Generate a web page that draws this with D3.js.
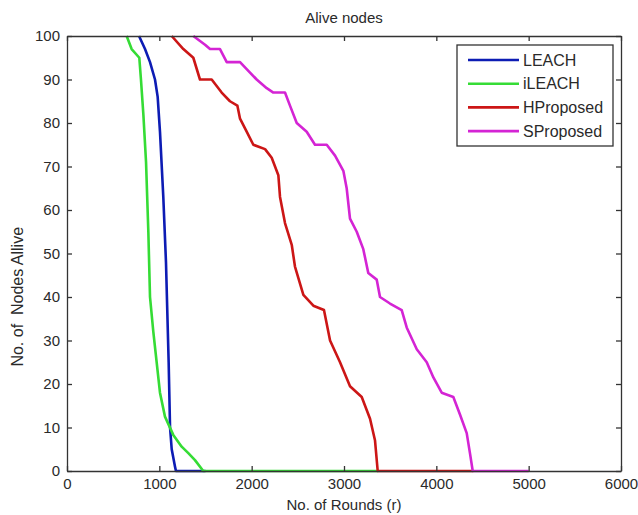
<!DOCTYPE html>
<html>
<head>
<meta charset="utf-8">
<script src="https://cdn.jsdelivr.net/npm/d3@7"></script>
<style>
body { margin: 0; background: #fff; }
text { font-family: "Liberation Sans", Arial, sans-serif; fill: #2a2a2a; }
</style>
</head>
<body>
<div id="chart"></div>
<script>
let width = 638;
let height = 515;
let margin = {top: 36, right: 17, bottom: 44, left: 67};

// rounds / alive nodes
let leachRounds = [780, 845, 899, 953, 982, 1007, 1043, 1072, 1101, 1116, 1134, 1170, 1180, 1500];
let leachAlive  = [100, 97, 94, 90, 86, 78, 63, 48, 25, 10, 5, 1, 0, 0];

let ileachRounds = [646, 700, 783, 801, 827, 856, 881, 899, 935, 971, 1007, 1061, 1151, 1242, 1314, 1386, 1476, 3370];
let ileachAlive  = [100, 97, 95, 90, 82, 71, 55, 40, 32, 25, 18, 12.5, 8.3, 5.6, 4.1, 2.5, 0, 0];

let hRounds = [1134, 1260, 1368, 1440, 1567, 1675, 1765, 1845, 1874, 1946, 2018, 2145, 2217, 2289, 2307, 2361, 2434, 2469, 2560, 2668, 2783, 2849, 2957, 3065, 3192, 3282, 3336, 3365, 4400];
let hAlive  = [100, 97, 95, 90, 90, 87, 85, 84, 81, 78, 75, 74, 72, 68, 63, 57, 52, 47, 40.5, 38, 37, 30, 25, 19.5, 17, 12, 7, 0, 0];

let sRounds = [1368, 1495, 1549, 1657, 1730, 1874, 1964, 2054, 2163, 2235, 2361, 2415, 2488, 2596, 2686, 2813, 2903, 2993, 3029, 3065, 3138, 3209, 3263, 3354, 3390, 3498, 3625, 3679, 3788, 3896, 3968, 4058, 4184, 4256, 4329, 4365, 4394, 5000];
let sAlive  = [100, 98, 97, 97, 94, 94, 92, 90, 88, 87, 87, 84, 80, 78, 75, 75, 72.5, 69, 65, 58, 55, 51, 45.5, 44, 40, 38.5, 37, 33, 28, 25, 21.5, 18, 17, 13, 8.7, 4, 0, 0];

let seriesNames = ["LEACH", "iLEACH", "HProposed", "SProposed"];
let seriesColors = ["#0d1cb4", "#35dc35", "#cc1616", "#d424d4"];

let xTicks = [0, 1000, 2000, 3000, 4000, 5000, 6000];
let yTicks = [0, 10, 20, 30, 40, 50, 60, 70, 80, 90, 100];

let series = [
	{name: seriesNames[0], color: seriesColors[0], values: d3.zip(leachRounds, leachAlive)},
	{name: seriesNames[1], color: seriesColors[1], values: d3.zip(ileachRounds, ileachAlive)},
	{name: seriesNames[2], color: seriesColors[2], values: d3.zip(hRounds, hAlive)},
	{name: seriesNames[3], color: seriesColors[3], values: d3.zip(sRounds, sAlive)}
];

let svg = d3.select("#chart").append("svg")
	.attr("width", width)
	.attr("height", height);

let x = d3.scaleLinear().domain([0, 6000]).range([margin.left, width - margin.right]);
let y = d3.scaleLinear().domain([0, 100]).range([height - margin.bottom, margin.top]);

let line = d3.line()
	.x(function(d){ return x(d[0]); })
	.y(function(d){ return y(d[1]); });

svg.selectAll("path.series")
	.data(series)
	.enter().append("path")
	.attr("class", "series")
	.attr("d", function(d){ return line(d.values); })
	.attr("fill", "none")
	.attr("stroke", function(d){ return d.color; })
	.attr("stroke-width", 2.6)
	.attr("stroke-linejoin", "round");

// box with inward ticks (matlab style)
let axisColor = "#333";
let fmt = d3.format("d");
svg.append("g")
	.attr("transform", "translate(0," + y(0) + ")")
	.call(d3.axisBottom(x).tickValues(xTicks).tickFormat(fmt).tickSizeInner(-5).tickSizeOuter(0).tickPadding(7))
	.call(function(g){ g.selectAll("text").style("font-size", "15px"); });
svg.append("g")
	.attr("transform", "translate(0," + y(100) + ")")
	.call(d3.axisTop(x).tickValues(xTicks).tickSizeInner(-5).tickSizeOuter(0).tickFormat(""));
svg.append("g")
	.attr("transform", "translate(" + x(0) + ",0)")
	.call(d3.axisLeft(y).tickValues(yTicks).tickFormat(fmt).tickSizeInner(-5).tickSizeOuter(0).tickPadding(7))
	.call(function(g){ g.selectAll("text").style("font-size", "15px"); });
svg.append("g")
	.attr("transform", "translate(" + x(6000) + ",0)")
	.call(d3.axisRight(y).tickValues(yTicks).tickSizeInner(-5).tickSizeOuter(0).tickFormat(""));
svg.selectAll(".domain, .tick line").attr("stroke", axisColor).attr("stroke-width", 1.3);

// titles
svg.append("text")
	.attr("x", (x(0) + x(6000)) / 2)
	.attr("y", 23)
	.attr("text-anchor", "middle")
	.style("font-size", "15px")
	.text("Alive nodes");
svg.append("text")
	.attr("x", (x(0) + x(6000)) / 2)
	.attr("y", 510)
	.attr("text-anchor", "middle")
	.style("font-size", "15px")
	.text("No. of Rounds (r)");
// the y label sits a bit below the middle in the original
svg.append("text")
	.attr("transform", "translate(23," + y(24) + ") rotate(-90)")
	.attr("text-anchor", "start")
	.style("font-size", "16px")
	.style("white-space", "pre")
	.text("No. of  Nodes Allive");

// legend
let legend = svg.append("g").attr("transform", "translate(457,45)");
legend.append("rect")
	.attr("width", 156)
	.attr("height", 101)
	.attr("fill", "#fff")
	.attr("stroke", axisColor)
	.attr("stroke-width", 1.3);
let item = legend.selectAll("g.item")
	.data(series)
	.enter().append("g")
	.attr("class", "item")
	.attr("transform", function(d, i){ return "translate(0," + (15 + i * 23.7) + ")"; });
item.append("line")
	.attr("x1", 11).attr("x2", 62)
	.attr("stroke", function(d){ return d.color; })
	.attr("stroke-width", 2.6);
item.append("text")
	.attr("x", 66)
	.attr("dy", "0.36em")
	.style("font-size", "16px")
	.text(function(d){ return d.name; });
</script>
</body>
</html>
